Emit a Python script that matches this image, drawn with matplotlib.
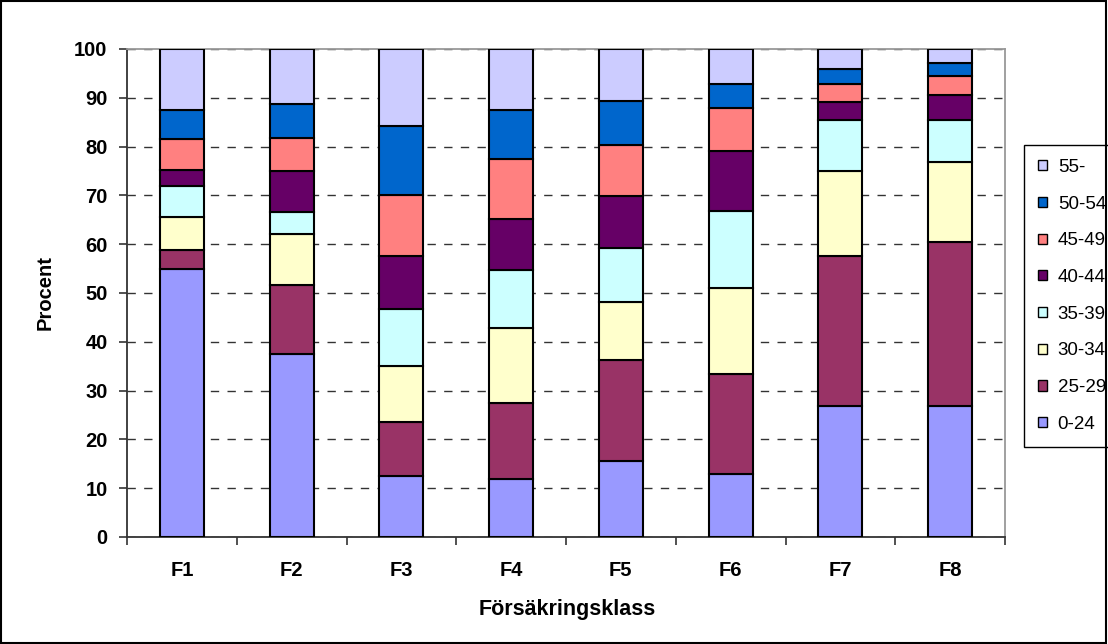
import matplotlib
matplotlib.use("Agg")
import matplotlib.pyplot as plt
import numpy as np
from matplotlib.patches import Rectangle, Patch

plt.rcParams['font.family'] = ['Liberation Sans', 'DejaVu Sans']

categories = ["F1", "F2", "F3", "F4", "F5", "F6", "F7", "F8"]
age_groups = ["0-24", "25-29", "30-34", "35-39", "40-44", "45-49", "50-54", "55-"]
colors = ["#9999FF", "#993366", "#FFFFCC", "#CCFFFF", "#660066", "#FF8080", "#0066CC", "#CCCCFF"]

s_0_24  = [55.0, 37.6, 12.6, 11.9, 15.5, 13.0, 26.8, 26.8]
s_25_29 = [3.9, 14.1, 10.9, 15.6, 20.7, 20.3, 30.8, 33.7]
s_30_34 = [6.6, 10.3, 11.6, 15.3, 11.9, 17.7, 17.5, 16.3]
s_35_39 = [6.5, 4.6, 11.6, 11.9, 11.2, 15.9, 10.4, 8.7]
s_40_44 = [3.3, 8.3, 10.9, 10.5, 10.6, 12.1, 3.6, 5.0]
s_45_49 = [6.2, 6.9, 12.5, 12.3, 10.4, 9.0, 3.7, 4.0]
s_50_54 = [6.1, 7.0, 14.2, 10.1, 9.1, 4.8, 3.2, 2.6]
s_55 = [12.4, 11.2, 15.7, 12.4, 10.6, 7.2, 4.0, 2.9]
series = [s_0_24, s_25_29, s_30_34, s_35_39, s_40_44, s_45_49, s_50_54, s_55]

fig = plt.figure(figsize=(11.08, 6.44), dpi=100)
ax = fig.add_axes([127/1108, 1 - 537/644, (1005 - 127)/1108, (537 - 49)/644])

x = np.arange(len(categories))
bottom = np.zeros(len(categories))
for vals, col, lab in zip(series, colors, age_groups):
    vals = np.array(vals)
    ax.bar(x, vals, width=0.4, bottom=bottom, color=col, edgecolor="black",
           linewidth=1.5, label=lab, zorder=3)
    bottom += vals

ax.set_xlim(-0.5, len(categories) - 0.5)
ax.set_ylim(0, 100)
ax.set_yticks(np.arange(0, 101, 10))
ax.set_xticks(x)
ax.set_xticklabels(categories, fontweight="bold", fontsize=14.5)
ax.set_xticks(np.arange(-0.5, len(categories), 1), minor=True)
ax.tick_params(axis="x", which="major", length=0, pad=17)
ax.tick_params(axis="x", which="minor", length=6, direction="out", color="#333333", width=1.2)
ax.tick_params(axis="y", length=6, direction="out", color="#333333", width=1.2,
               labelsize=14.5, pad=8)
for t in ax.get_yticklabels():
    t.set_fontweight("bold")

ax.yaxis.grid(True, linestyle=(0, (6, 6)), color="#333333", linewidth=1.0, zorder=0)
for sp in ["left", "bottom"]:
    ax.spines[sp].set_color("#333333")
    ax.spines[sp].set_linewidth(1.3)
for sp in ["top", "right"]:
    ax.spines[sp].set_color("#999999")
    ax.spines[sp].set_linewidth(1.3)

fig.text(45/1108, 1 - 293/644, "Procent", fontweight="bold", fontsize=14.5,
         rotation=90, ha="center", va="center")
fig.text(567/1108, 1 - 609/644, "Försäkringsklass", fontweight="bold", fontsize=15.5,
         ha="center", va="center")

handles = [Patch(facecolor=c, edgecolor="black", linewidth=1.0) for c in colors]
leg = fig.legend(handles[::-1], age_groups[::-1], loc="upper left",
                 bbox_to_anchor=(1024/1108, 1 - 145/644), fontsize=13.5,
                 frameon=True, fancybox=False, edgecolor="black", framealpha=1,
                 handlelength=0.45, handleheight=0.45, handletextpad=0.6,
                 labelspacing=1.05, borderpad=0.75, borderaxespad=0)
leg.get_frame().set_linewidth(1.0)

fig.patches.append(Rectangle((0.001, 0.002), 0.997, 0.996, transform=fig.transFigure,
                             fill=False, edgecolor="black", linewidth=1.5, zorder=10))

fig.savefig("out.png", dpi=100)
